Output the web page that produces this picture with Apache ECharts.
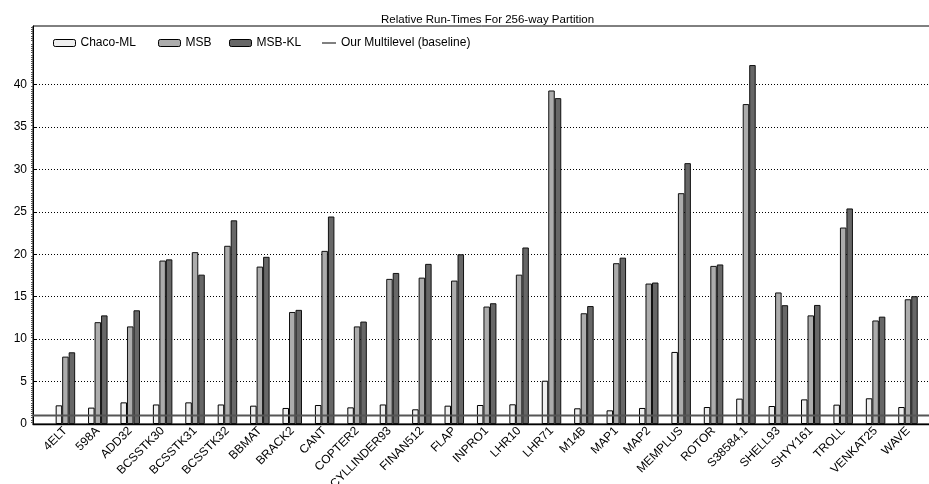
<!DOCTYPE html>
<html>
<head>
<meta charset="utf-8">
<script src="https://cdn.jsdelivr.net/npm/echarts@6/dist/echarts.min.js"></script>
<style>html,body{margin:0;padding:0;background:#fff;}#c{width:929px;height:484px;}</style>
</head>
<body>
<div id="c"></div>
<script>
const categories = ['4ELT','598A','ADD32','BCSSTK30','BCSSTK31','BCSSTK32','BBMAT','BRACK2','CANT','COPTER2','CYLLINDER93','FINAN512','FLAP','INPRO1','LHR10','LHR71','M14B','MAP1','MAP2','MEMPLUS','ROTOR','S38584.1','SHELL93','SHYY161','TROLL','VENKAT25','WAVE'];
const chacoML = [2.2,1.93,2.55,2.3,2.55,2.3,2.16,1.89,2.24,1.96,2.3,1.73,2.16,2.24,2.32,5.1,1.85,1.61,1.89,8.49,2.0,2.99,2.12,2.9,2.28,3.03,2.0];
const msb     = [7.94,12.0,11.5,19.26,20.25,21.0,18.55,13.2,20.4,11.5,17.1,17.25,16.9,13.84,17.6,39.3,13.05,18.95,16.55,27.2,18.63,37.7,15.5,12.8,23.15,12.2,14.7];
const msbKL   = [8.45,12.8,13.4,19.4,17.6,24.0,19.7,13.45,24.45,12.07,17.8,18.87,20.0,14.23,20.8,38.4,13.9,19.6,16.67,30.74,18.8,42.3,14.0,14.03,25.4,12.65,15.06];
const baselineValue = 1;
const yTickMax = 40;
const yMax = 46.9;
const yInterval = 5;
const xMin = -1;
const xMax = 26.71;

const chart = echarts.init(document.getElementById('c'), null, {renderer: 'canvas'});
const FONT = 'Liberation Sans, Arial, Helvetica, sans-serif';
const gridTop = 26, gridBottom = 60, gridLeft = 33, gridRight = -2;
const plotH = 484 - gridTop - gridBottom;
const grid1Top = gridTop + plotH * (1 - yTickMax / yMax);

const pairs = arr => arr.map((v, i) => [i, v]);
const barCommon = {
  type: 'bar', xAxisIndex: 0, yAxisIndex: 0, barWidth: 6.5, barGap: '0%',
  emphasis: {disabled: true}, z: 3
};
const legendCommon = {top: 37, itemWidth: 22, itemHeight: 7, itemGap: 0,
  textStyle: {fontFamily: FONT, fontSize: 12, color: '#000'}, selectedMode: false, padding: 0};

chart.setOption({
  animation: false,
  backgroundColor: '#fff',
  title: {text: 'Relative Run-Times For 256-way Partition', left: 376, top: 9,
    textStyle: {fontFamily: FONT, fontSize: 11.5, fontWeight: 'normal', color: '#000'}},
  legend: [
    Object.assign({}, legendCommon, {left: 53, data: [{name: 'Chaco-ML', itemStyle: {borderColor: '#000', borderWidth: 1}}]}),
    Object.assign({}, legendCommon, {left: 158, data: [{name: 'MSB', itemStyle: {borderColor: '#000', borderWidth: 1}}]}),
    Object.assign({}, legendCommon, {left: 229, data: [{name: 'MSB-KL', itemStyle: {borderColor: '#000', borderWidth: 1}}]}),
    Object.assign({}, legendCommon, {left: 322, itemWidth: 14, itemHeight: 1,
      data: [{name: 'Our Multilevel (baseline)', icon: 'path://M0,0h14v1h-14z', itemStyle: {color: '#000'}}]})
  ],
  grid: [
    {top: gridTop, bottom: gridBottom, left: gridLeft, right: gridRight, show: true, borderColor: '#000', borderWidth: 1,
      backgroundColor: 'transparent', containLabel: false, outerBoundsMode: 'none'},
    {top: grid1Top, bottom: gridBottom, left: gridLeft, right: gridRight, show: false, containLabel: false, outerBoundsMode: 'none'}
  ],
  xAxis: [
    {type: 'value', gridIndex: 0, min: xMin, max: xMax, interval: 1,
      axisLine: {show: true, onZero: false, lineStyle: {color: '#000', width: 1.3}},
      axisTick: {show: false}, splitLine: {show: false},
      axisLabel: {rotate: 45, margin: 5, fontFamily: FONT, fontSize: 12, color: '#000',
        showMinLabel: true, showMaxLabel: true, hideOverlap: false,
        formatter: v => (Number.isInteger(v) && categories[v] !== undefined) ? categories[v] : ''}},
    {type: 'value', gridIndex: 1, min: xMin, max: xMax, show: false}
  ],
  yAxis: [
    {type: 'value', gridIndex: 0, min: 0, max: yMax, interval: yInterval,
      axisLine: {show: true, onZero: false, lineStyle: {color: '#000', width: 1}},
      axisLabel: {show: false}, splitLine: {show: false}, axisTick: {show: false},
      minorTick: {show: true, splitNumber: 20, length: 2, lineStyle: {color: '#555', width: 1}}},
    {type: 'value', gridIndex: 1, min: 0, max: yTickMax, interval: yInterval,
      axisLine: {show: true, onZero: false, lineStyle: {color: '#000', width: 1}},
      axisTick: {show: true, inside: true, length: 4, lineStyle: {color: '#000'}},
      axisLabel: {margin: 6, fontFamily: FONT, fontSize: 12, color: '#000'},
      splitLine: {show: true, lineStyle: {type: [1, 2], color: '#000', width: 1}}}
  ],
  series: [
    Object.assign({}, barCommon, {name: 'Chaco-ML', data: pairs(chacoML), itemStyle: {color: '#efefef', borderColor: '#000', borderWidth: 1}}),
    Object.assign({}, barCommon, {name: 'MSB', data: pairs(msb), itemStyle: {color: '#acacac', borderColor: '#111', borderWidth: 1}}),
    Object.assign({}, barCommon, {name: 'MSB-KL', data: pairs(msbKL), itemStyle: {color: '#676767', borderColor: '#111', borderWidth: 1}}),
    {name: 'Our Multilevel (baseline)', type: 'line', xAxisIndex: 0, yAxisIndex: 0,
      data: [[xMin, baselineValue], [xMax, baselineValue]], showSymbol: false, symbol: 'none',
      lineStyle: {color: '#555', width: 2}, itemStyle: {color: '#000'}, z: 5, emphasis: {disabled: true}}
  ]
});
</script>
</body>
</html>
